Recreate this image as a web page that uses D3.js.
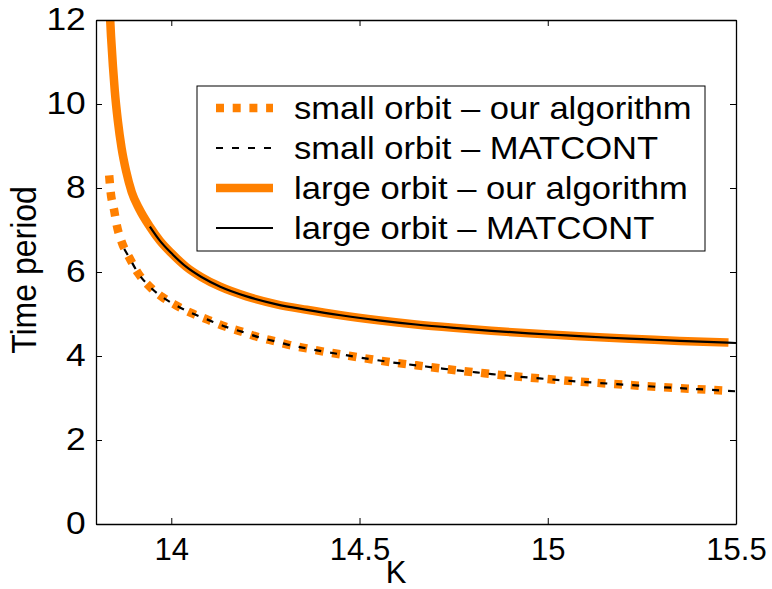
<!DOCTYPE html>
<html>
<head>
<meta charset="utf-8">
<script src="https://cdn.jsdelivr.net/npm/d3@7"></script>
<style>
  html, body { margin: 0; padding: 0; background: #fff; }
  svg { display: block; font-family: "Liberation Sans", Arial, Helvetica, sans-serif; }
</style>
</head>
<body>
<svg id="chart" width="772" height="589"></svg>
<script>
// Period of the two limit cycles as a function of the parameter K
const xTicks = [14, 14.5, 15, 15.5];
const yTicks = [0, 2, 4, 6, 8, 10, 12];

// small orbit, computed with our algorithm
const smallOursK = [13.835, 13.839, 13.848, 13.855, 13.868, 13.888, 13.912, 13.943, 13.975, 14.012,
  14.054, 14.098, 14.143, 14.187, 14.231, 14.275, 14.315, 14.36, 14.408, 14.45, 14.496, 14.54,
  14.585, 14.63, 14.676, 14.72, 14.767, 14.81, 14.851, 14.895, 15.0, 15.1, 15.2, 15.3, 15.4, 15.484];
const smallOursT = [8.3, 7.9, 7.48, 7.12, 6.72, 6.35, 5.97, 5.65, 5.41, 5.21,
  5.02, 4.86, 4.70, 4.58, 4.45, 4.35, 4.26, 4.18, 4.10, 4.04, 3.97, 3.91,
  3.85, 3.80, 3.75, 3.70, 3.65, 3.61, 3.57, 3.53, 3.45, 3.38, 3.32, 3.26, 3.21, 3.17];

// small orbit, continued with MATCONT
const smallMatK = [13.875, 13.888, 13.912, 13.943, 13.975, 14.012, 14.054, 14.098, 14.143, 14.187,
  14.231, 14.275, 14.315, 14.36, 14.408, 14.45, 14.496, 14.54, 14.585, 14.63, 14.676, 14.72,
  14.767, 14.81, 14.851, 14.895, 15.0, 15.1, 15.2, 15.3, 15.4, 15.5];
const smallMatT = [6.55, 6.35, 5.97, 5.65, 5.41, 5.21, 5.02, 4.86, 4.70, 4.58,
  4.45, 4.35, 4.26, 4.18, 4.10, 4.04, 3.97, 3.91, 3.85, 3.80, 3.75, 3.70,
  3.65, 3.61, 3.57, 3.53, 3.45, 3.38, 3.32, 3.26, 3.21, 3.16];

// large orbit, computed with our algorithm
const largeOursK = [13.836, 13.840, 13.845, 13.850, 13.858, 13.868, 13.880, 13.895, 13.915, 13.943,
  13.970, 14.00, 14.04, 14.08, 14.13, 14.20, 14.28, 14.36, 14.45, 14.55, 14.65, 14.75,
  14.85, 14.95, 15.05, 15.15, 15.25, 15.35, 15.48];
const largeOursT = [12.3, 11.6, 10.9, 10.3, 9.6, 8.95, 8.4, 7.9, 7.5, 7.08,
  6.74, 6.45, 6.12, 5.88, 5.65, 5.42, 5.23, 5.10, 4.97, 4.85, 4.75, 4.67,
  4.60, 4.54, 4.49, 4.44, 4.40, 4.36, 4.32];

// large orbit, continued with MATCONT
const largeMatK = [13.943, 13.970, 14.00, 14.04, 14.08, 14.13, 14.20, 14.28, 14.36, 14.45, 14.55,
  14.65, 14.75, 14.85, 14.95, 15.05, 15.15, 15.25, 15.35, 15.50];
const largeMatT = [7.08, 6.74, 6.45, 6.12, 5.88, 5.65, 5.42, 5.23, 5.10, 4.97, 4.85,
  4.75, 4.67, 4.60, 4.54, 4.49, 4.44, 4.40, 4.36, 4.31];

const legendLabels = [
  "small orbit \u2013 our algorithm",
  "small orbit \u2013 MATCONT",
  "large orbit \u2013 our algorithm",
  "large orbit \u2013 MATCONT"
];

const ORANGE = "#ff8000";
const styles = [
  { stroke: ORANGE, width: 8.5, dash: "8,8.7" },
  { stroke: "#000", width: 2.2, dash: "7,9" },
  { stroke: ORANGE, width: 8.5, dash: null },
  { stroke: "#000", width: 2.2, dash: null }
];

const series = [
  d3.zip(smallOursK, smallOursT),
  d3.zip(smallMatK, smallMatT),
  d3.zip(largeOursK, largeOursT),
  d3.zip(largeMatK, largeMatT)
];

const svg = d3.select("#chart");
const L = 96, R = 736, T = 20, B = 524;
const x = d3.scaleLinear().domain([13.8, 15.5]).range([L, R]);
const y = d3.scaleLinear().domain([0, 12]).range([B, T]);
const FS = 31;

svg.append("defs").append("clipPath").attr("id", "plotClip")
  .append("rect").attr("x", L).attr("y", T).attr("width", R - L).attr("height", B - T);

const line = d3.line().x(d => x(d[0])).y(d => y(d[1])).curve(d3.curveMonotoneX);

const plot = svg.append("g").attr("clip-path", "url(#plotClip)");
// draw order: orange first, black on top
[0, 2, 1, 3].forEach(i => {
  const s = styles[i];
  plot.append("path")
    .datum(series[i])
    .attr("d", line)
    .attr("fill", "none")
    .attr("stroke", s.stroke)
    .attr("stroke-width", s.width)
    .attr("stroke-dasharray", s.dash)
    .attr("stroke-linecap", "butt");
});

// axes box with inward ticks on all sides
const axStyle = g => {
  g.selectAll(".domain").attr("stroke", "#000").attr("stroke-width", 1.3).attr("fill", "none");
  g.selectAll(".tick line").attr("stroke", "#000").attr("stroke-width", 1);
  g.selectAll("text").attr("font-size", FS).attr("fill", "#000")
    .attr("font-family", "'Liberation Sans', Arial, sans-serif");
};

svg.append("g").attr("transform", `translate(0,${B})`)
  .call(d3.axisBottom(x).tickValues(xTicks).tickSize(-6).tickSizeOuter(0).tickPadding(14)
    .tickFormat(d3.format("")))
  .call(axStyle);
svg.append("g").attr("transform", `translate(0,${T})`)
  .call(d3.axisTop(x).tickValues(xTicks).tickSize(-6).tickSizeOuter(0).tickFormat(""))
  .call(axStyle);
svg.append("g").attr("transform", `translate(${L},0)`)
  .call(d3.axisLeft(y).tickValues(yTicks).tickSize(-6).tickSizeOuter(0).tickPadding(9))
  .call(axStyle)
  .call(g => g.selectAll("text").attr("transform", "scale(1.14,1)"));
svg.append("g").attr("transform", `translate(${R},0)`)
  .call(d3.axisRight(y).tickValues(yTicks).tickSize(-6).tickSizeOuter(0).tickFormat(""))
  .call(axStyle);

// axis titles
svg.append("text").attr("x", 396).attr("y", 583).attr("text-anchor", "middle")
  .attr("font-size", FS).text("K");
svg.append("text").attr("transform", `translate(36,${(T + B) / 2 - 2}) rotate(-90) scale(1,1.1)`)
  .attr("text-anchor", "middle").attr("font-size", 32).text("Time period");

// legend
const lg = svg.append("g");
lg.append("rect").attr("x", 197).attr("y", 86).attr("width", 508).attr("height", 165)
  .attr("fill", "#fff").attr("stroke", "#000").attr("stroke-width", 1);
legendLabels.forEach((lab, i) => {
  const cy = 108 + i * 40;
  const s = styles[i];
  lg.append("line").attr("x1", 216).attr("x2", 273).attr("y1", cy).attr("y2", cy)
    .attr("stroke", s.stroke).attr("stroke-width", s.width)
    .attr("stroke-dasharray", s.dash);
  lg.append("text").attr("transform", `translate(294,${cy}) scale(1.08,1)`)
    .attr("dy", "0.35em").attr("font-size", 32).text(lab);
});
</script>
</body>
</html>
